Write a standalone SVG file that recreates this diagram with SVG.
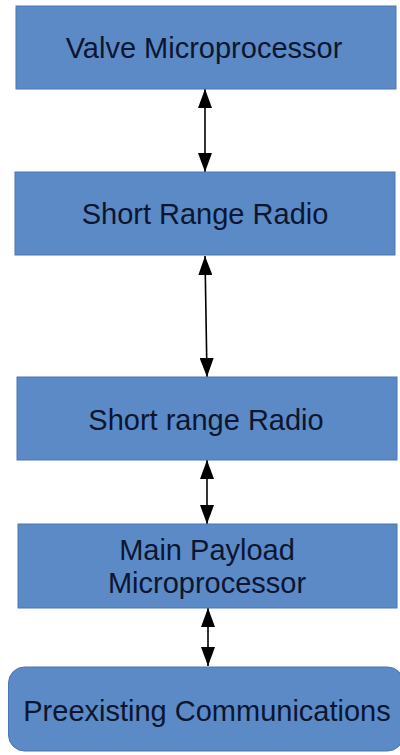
<svg xmlns="http://www.w3.org/2000/svg" width="400" height="755" viewBox="0 0 400 755">
<defs>
<style>
.box{fill:#5b8ac6;stroke:#4a77b2;stroke-width:1}
.lbl{font-family:"Liberation Sans",Arial,sans-serif;font-size:29px;fill:#0c1630;text-anchor:middle}
.conn{stroke:#000;stroke-width:1.6;fill:none;marker-start:url(#ah);marker-end:url(#ah)}
</style>
<marker id="ah" viewBox="0 0 19 14" refX="19" refY="7" markerWidth="19" markerHeight="14" markerUnits="userSpaceOnUse" orient="auto-start-reverse">
<path d="M0,0 L19,7 L0,14 Z" fill="#000"/>
</marker>
</defs>
<rect width="400" height="755" fill="#fff"/>
<g id="connectors">
<line class="conn" x1="205" y1="89" x2="205" y2="172"/>
<line class="conn" x1="205" y1="256" x2="207" y2="377"/>
<line class="conn" x1="207" y1="460" x2="207" y2="524"/>
<line class="conn" x1="208" y1="608" x2="208" y2="666"/>
</g>
<g id="valve-microprocessor">
<rect class="box" x="16" y="6" width="380" height="83"/>
<text class="lbl" x="204" y="57.5">Valve Microprocessor</text>
</g>
<g id="short-range-radio-1">
<rect class="box" x="15" y="172" width="380" height="83"/>
<text class="lbl" x="205" y="224">Short Range Radio</text>
</g>
<g id="short-range-radio-2">
<rect class="box" x="17" y="377" width="380" height="83"/>
<text class="lbl" x="206" y="430">Short range Radio</text>
</g>
<g id="main-payload-microprocessor">
<rect class="box" x="18" y="524" width="379" height="84"/>
<text class="lbl" x="207" y="560">Main Payload</text>
<text class="lbl" x="207" y="593">Microprocessor</text>
</g>
<g id="preexisting-communications">
<rect class="box" x="8.5" y="667" width="395" height="84" rx="16" ry="16"/>
<text class="lbl" x="207" y="721">Preexisting Communications</text>
</g>
</svg>
